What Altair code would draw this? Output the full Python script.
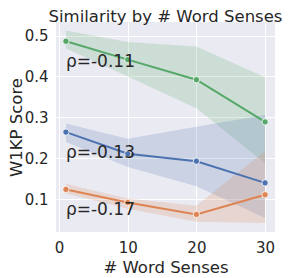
import altair as alt
import pandas as pd

senses = [1, 10, 20, 30]
series = ["green", "blue", "orange"]
colors = ["#55A868", "#4C72B0", "#DD8452"]

green_mean = [0.486, 0.441, 0.392, 0.289]
green_lo = [0.468, 0.400, 0.322, 0.188]
green_hi = [0.512, 0.484, 0.473, 0.398]

blue_mean = [0.264, 0.211, 0.193, 0.140]
blue_lo = [0.240, 0.179, 0.132, 0.054]
blue_hi = [0.285, 0.248, 0.277, 0.306]

orange_mean = [0.124, 0.092, 0.063, 0.111]
orange_lo = [0.114, 0.077, 0.045, 0.042]
orange_hi = [0.137, 0.102, 0.084, 0.218]

rho_labels = ["ρ=-0.11", "ρ=-0.13", "ρ=-0.17"]
rho_x = [1, 1, 1]
rho_y = [0.422, 0.200, 0.061]

x_ticks = [0, 10, 20, 30]
y_ticks = [0.1, 0.2, 0.3, 0.4, 0.5]

means = {"green": green_mean, "blue": blue_mean, "orange": orange_mean}
los = {"green": green_lo, "blue": blue_lo, "orange": orange_lo}
his = {"green": green_hi, "blue": blue_hi, "orange": orange_hi}

rows = []
for s in series:
    for i, x in enumerate(senses):
        rows.append({"series": s, "senses": x, "mean": means[s][i],
                     "lo": los[s][i], "hi": his[s][i]})
df = pd.DataFrame(rows)
labels_df = pd.DataFrame({"label": rho_labels, "x": rho_x, "y": rho_y})

FONT = "DejaVu Sans"
TXT = "#262626"

yscale = alt.Scale(domain=[0.02, 0.533], nice=False, zero=False)
color = alt.Color("series:N", scale=alt.Scale(domain=series, range=colors), legend=None)
xenc = alt.X("senses:Q", scale=alt.Scale(domain=[-0.45, 31.45], nice=False, zero=False),
             axis=alt.Axis(values=x_ticks, title="# Word Senses", format="d",
                           titleY=40, titleBaseline="alphabetic"))
yenc = alt.Y("mean:Q", scale=yscale,
             axis=alt.Axis(values=y_ticks, title="W1KP Score", format=".1f",
                           titleX=-35, titleBaseline="alphabetic"))

base = alt.Chart(df)
band = base.mark_area(opacity=0.2).encode(
    x=xenc, y=alt.Y("lo:Q", scale=yscale), y2="hi:Q", color=color, detail="series:N")
line = base.mark_line(strokeWidth=2).encode(x=xenc, y=yenc, color=color, detail="series:N")
pts = base.mark_point(filled=True, size=40, opacity=1, stroke="white", strokeWidth=0.8).encode(
    x=xenc, y=yenc, fill=color)
txt = alt.Chart(labels_df).mark_text(align="left", baseline="alphabetic", fontSize=17,
                                     font=FONT, color=TXT).encode(
    x=alt.X("x:Q"), y=alt.Y("y:Q"), text="label:N")

chart = alt.layer(band, line, pts, txt).properties(
    width=219, height=210,
    background="white",
    title=alt.TitleParams("Similarity by # Word Senses", fontSize=16.5, font=FONT,
                          fontWeight="normal", color=TXT, anchor="middle",
                          offset=0, dy=3),
    autosize=alt.AutoSizeParams(type="none"),
    padding={"left": 48, "top": 14, "right": 8, "bottom": 45},
).configure_view(fill="#EAEAF2", stroke=None).configure_axis(
    grid=True, gridColor="white", gridWidth=1, domain=False, ticks=False,
    labelFont=FONT, labelFontSize=15, labelColor=TXT, labelPadding=8,
    titleFont=FONT, titleFontSize=16.5, titleFontWeight="normal", titleColor=TXT,
)

chart.save("out.html", embed_options={"renderer": "svg", "actions": False})
